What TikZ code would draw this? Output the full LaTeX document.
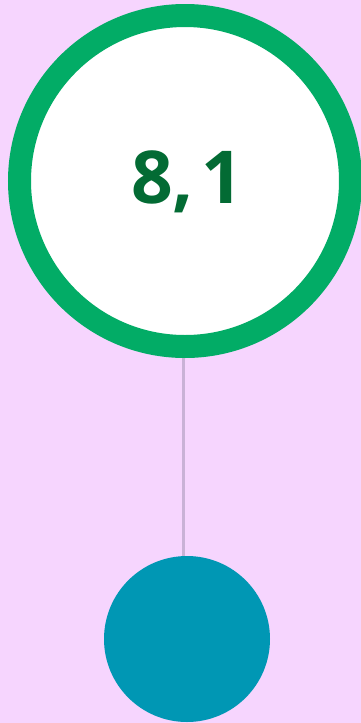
\documentclass[tikz,border=0pt]{standalone}
\usepackage{fontspec}
\setmainfont{Open Sans}
\usetikzlibrary{positioning,calc}
\definecolor{bgpink}{RGB}{246,213,254}
\definecolor{ringgreen}{RGB}{2,172,102}
\definecolor{numgreen}{RGB}{3,107,52}
\definecolor{dotteal}{RGB}{0,151,180}
\definecolor{stemgray}{RGB}{201,178,214}
\tikzset{
  bigring/.style={circle, draw=ringgreen, line width=23pt, fill=white,
                  minimum size=331pt, inner sep=0pt},
  numtxt/.style={font=\bfseries\fontsize{73}{73}\selectfont, text=numgreen},
  tealdot/.style={circle, fill=dotteal, minimum size=166pt, inner sep=0pt},
  stem/.style={stemgray, line width=3pt},
}
\begin{document}
\begin{tikzpicture}[x=1pt, y=-1pt]
  \fill[bgpink] (0,0) rectangle (361,723);
  \useasboundingbox (0,0) rectangle (361,723);
  \node[bigring] (ring) at (185,181) {};
  \node[numtxt] (val) at (187,182) {8,\hspace{7pt}1};
  \node[tealdot] (dot) at (187,639) {};
  \draw[stem] ($(ring.south)+(-2,0)$) -- ($(dot.north)+(-4,0)$);
\end{tikzpicture}
\end{document}
